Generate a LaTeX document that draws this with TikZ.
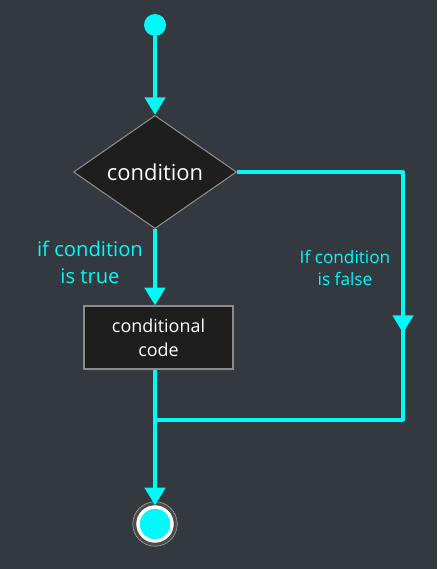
\documentclass[tikz,border=0pt]{standalone}
\usepackage{fontspec}
\setmainfont{Open Sans}
\usetikzlibrary{arrows.meta,shapes.geometric}
\definecolor{bgdark}{RGB}{52,57,64}
\definecolor{flowcyan}{RGB}{0,250,250}
\definecolor{boxfill}{RGB}{30,30,30}
\definecolor{boxline}{RGB}{140,140,140}
\begin{document}
\begin{tikzpicture}[x=0.02cm,y=-0.02cm,
  flow/.style={flowcyan,line width=2.2pt},
  tip/.style={-{Triangle[length=10pt,width=11.5pt]}},
  label/.style={text=flowcyan,align=center}]
\fill[bgdark] (0,0) rectangle (437,569);
%
\node[circle,fill=flowcyan,inner sep=0pt,minimum size=0.44cm] (start) at (155,25) {};
\node[diamond,fill=boxfill,draw=boxline,line width=0.6pt,inner sep=0pt,
  minimum width=3.26cm,minimum height=2.22cm,text=white,
  font=\fontsize{12.5}{14}\selectfont] (cond) at (155,172) {condition};
\node[rectangle,fill=boxfill,draw=boxline,line width=0.8pt,
  minimum width=2.98cm,minimum height=1.26cm,text=white,align=center,
  font=\fontsize{10.2}{13.7}\selectfont] (code) at (158.5,337.5) {conditional\\code};
\node[circle,fill=flowcyan,draw=white,line width=2pt,inner sep=0pt,
  minimum size=0.68cm] (stop) at (155,524) {};
\draw[black!70,line width=1.6pt] (stop.center) circle (0.415cm);
\draw[gray!80,line width=0.4pt] (stop.center) circle (0.445cm);
%
\coordinate (tr) at (403,172);
\coordinate (fmid) at (403,333);
\coordinate (br) at (403,420);
\coordinate (join) at (155,420);
%
\draw[flow,tip] (start) -- (cond.north);
\draw[flow,tip] (cond.south) -- (code.north -| cond.south);
\draw[flow] (code.south -| cond.south) -- (join);
\draw[flow,tip] (join) -- (stop.north);
\draw[flow,line join=round] (cond.east) -- (tr) -- (br) -- (join);
\draw[flow,tip] (tr) -- (fmid);
%
\node[label,font=\fontsize{11.5}{15.4}\selectfont] (ttrue) at (90,262) {if condition\\is true};
\node[label,font=\fontsize{9.8}{13}\selectfont] (tfalse) at (345,268) {If condition\\is false};
\end{tikzpicture}
\end{document}
